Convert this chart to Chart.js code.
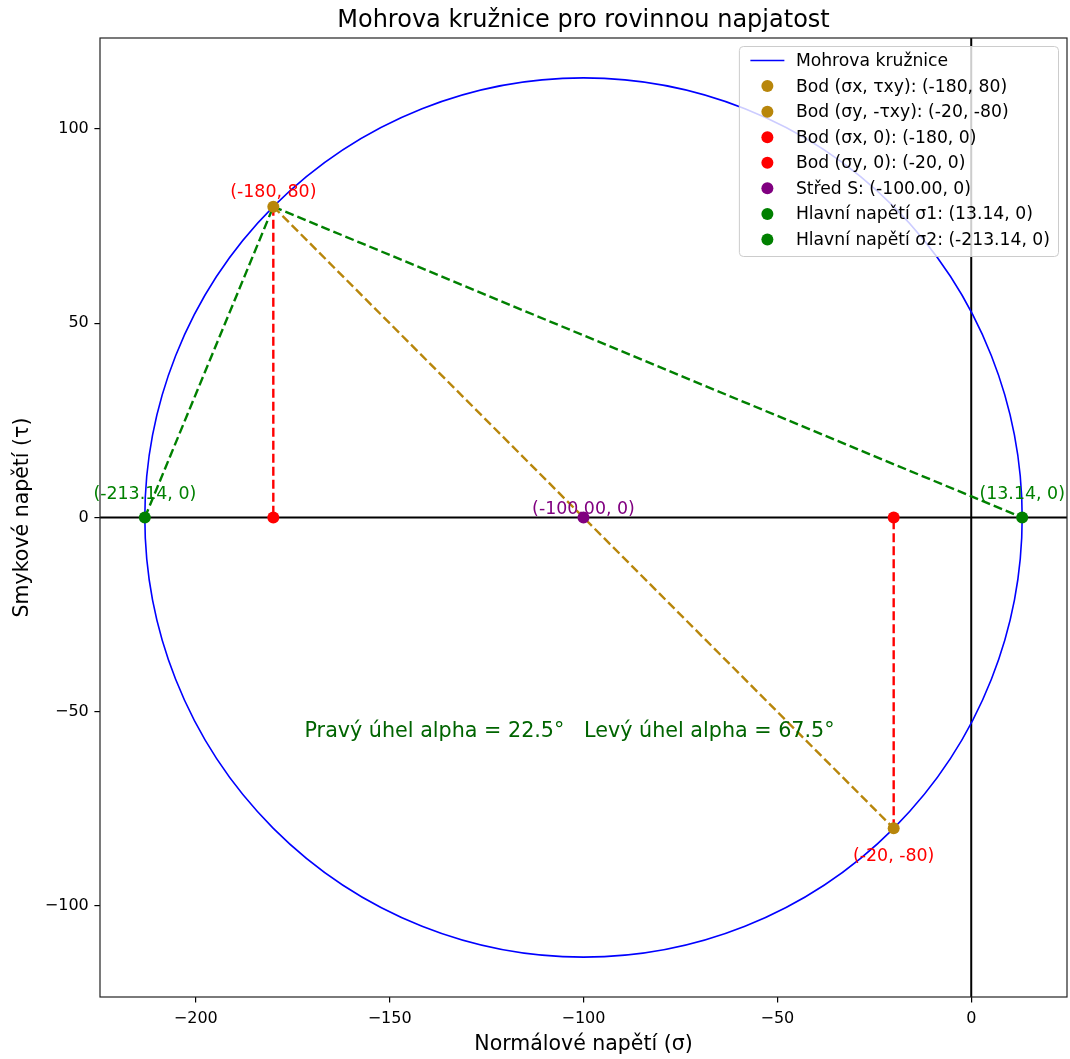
<!DOCTYPE html>
<html>
<head>
<meta charset="utf-8">
<title>Mohrova kružnice</title>
<script src="https://cdn.jsdelivr.net/npm/chart.js@4.4.1/dist/chart.umd.min.js"></script>
<style>
  html, body { margin: 0; padding: 0; background: #fff; overflow: hidden; }
  canvas { display: block; }
</style>
</head>
<body>
<!-- 3px wider than the window: the x axis keeps a 5px right margin for its last label -->
<canvas id="mohrChart" width="1073" height="1059"></canvas>
<script>
// ---- data ----
const chartTitle = 'Mohrova kružnice pro rovinnou napjatost';
const xAxisTitle = 'Normálové napětí (σ)';
const yAxisTitle = 'Smykové napětí (τ)';

const xTicks = [-200, -150, -100, -50, 0];
const yTicks = [-100, -50, 0, 50, 100];
const xRange = [-224.7, 24.7];
const yRange = [-123.4, 123.4];

const circleLabel = 'Mohrova kružnice';
const circleCenter = [-100, 0];
const circleRadius = 113.14;

const pointLabels = [
    'Bod (σx, τxy): (-180, 80)',
    'Bod (σy, -τxy): (-20, -80)',
    'Bod (σx, 0): (-180, 0)',
    'Bod (σy, 0): (-20, 0)',
    'Střed S: (-100.00, 0)',
    'Hlavní napětí σ1: (13.14, 0)',
    'Hlavní napětí σ2: (-213.14, 0)'
];
const pointX = [-180, -20, -180, -20, -100, 13.14, -213.14];
const pointY = [80, -80, 0, 0, 0, 0, 0];

// dashed construction lines, as pairs of point indices
const segFrom = [0, 1, 0, 6, 0];
const segTo = [2, 3, 1, 0, 5];

// coordinate notes next to points
const noteIdx = [0, 1, 4, 6, 5];
const noteText = ['(-180, 80)', '(-20, -80)', '(-100.00, 0)', '(-213.14, 0)', '(13.14, 0)'];

const angleNote = 'Pravý úhel alpha = 22.5°   Levý úhel alpha = 67.5°';
const angleNoteAt = [-103.6, -55];

// ---- styles ----
const font = "'DejaVu Sans', sans-serif";
const goldenrod = '#b8860b';
const red = '#ff0000';
const purple = '#800080';
const green = '#008000';
const blue = '#0000ff';
const pointColors = [goldenrod, goldenrod, red, red, purple, green, green];
const segColors = [red, red, goldenrod, green, green];
const noteColors = [red, red, purple, green, green];
const noteDy = [-10, 33, -4, -19, -19];   // baseline offset from the point, px

const fmtTick = v => (v < 0 ? '\u2212' + Math.abs(v) : String(v));

Chart.defaults.font.family = font;
Chart.defaults.color = '#000';

// dashed lines
const segDatasets = segFrom.map((a, i) => ({
    type: 'line',
    data: [{ x: pointX[a], y: pointY[a] }, { x: pointX[segTo[i]], y: pointY[segTo[i]] }],
    borderColor: segColors[i],
    borderWidth: 2.4,
    borderDash: [9, 4],
    pointRadius: 0,
    fill: false,
    order: 2
}));

// points
const pointDatasets = pointLabels.map((label, i) => ({
    type: 'scatter',
    label: label,
    data: [{ x: pointX[i], y: pointY[i] }],
    backgroundColor: pointColors[i],
    borderColor: pointColors[i],
    pointRadius: 6,
    pointBorderWidth: 0,
    order: 1
}));

const mohrPlugin = {
    id: 'mohr',
    beforeDatasetsDraw(chart) {
        const { ctx, chartArea: a, scales: { x, y } } = chart;
        ctx.save();
        ctx.beginPath();
        ctx.rect(a.left, a.top, a.right - a.left, a.bottom - a.top);
        ctx.clip();

        // zero lines
        const x0 = x.getPixelForValue(0);
        const y0 = y.getPixelForValue(0);
        ctx.strokeStyle = '#000';
        ctx.lineWidth = 2;
        ctx.beginPath();
        ctx.moveTo(a.left, y0); ctx.lineTo(a.right, y0);
        ctx.moveTo(x0, a.top); ctx.lineTo(x0, a.bottom);
        ctx.stroke();

        // circle
        const cx = x.getPixelForValue(circleCenter[0]);
        const cy = y.getPixelForValue(circleCenter[1]);
        const rx = Math.abs(x.getPixelForValue(circleCenter[0] + circleRadius) - cx);
        const ry = Math.abs(y.getPixelForValue(circleCenter[1] + circleRadius) - cy);
        ctx.strokeStyle = blue;
        ctx.lineWidth = 1.6;
        ctx.beginPath();
        ctx.ellipse(cx, cy, rx, ry, 0, 0, Math.PI * 2);
        ctx.stroke();
        ctx.restore();
    },
    afterDraw(chart) {
        const { ctx, chartArea: a, scales: { x, y } } = chart;
        ctx.save();

        // frame
        ctx.strokeStyle = '#222';
        ctx.lineWidth = 1.2;
        ctx.strokeRect(a.left, a.top, a.right - a.left, a.bottom - a.top);

        // title
        ctx.fillStyle = '#000';
        ctx.font = '24px ' + font;
        ctx.textAlign = 'center';
        ctx.textBaseline = 'alphabetic';
        ctx.fillText(chartTitle, (a.left + a.right) / 2, 27);

        // point notes
        ctx.font = '17.4px ' + font;
        noteIdx.forEach((p, i) => {
            ctx.fillStyle = noteColors[i];
            ctx.fillText(noteText[i], x.getPixelForValue(pointX[p]), y.getPixelForValue(pointY[p]) + noteDy[i]);
        });

        // angle note
        ctx.font = '20.7px ' + font;
        ctx.fillStyle = '#006400';
        ctx.textBaseline = 'middle';
        ctx.fillText(angleNote, x.getPixelForValue(angleNoteAt[0]), y.getPixelForValue(angleNoteAt[1]));

        // legend
        ctx.font = '17.2px ' + font;
        const labels = [circleLabel].concat(pointLabels);
        const maxW = Math.max(...labels.map(t => ctx.measureText(t).width));
        const padL = 11, handle = 34, gap = 11.5, padR = 8.5;
        const rowH = 25.57, padT = 14, padB = 17;
        const w = padL + handle + gap + maxW + padR;
        const h = padT + rowH * (labels.length - 1) + padB;
        const right = a.right - 8.5, top = a.top + 8.5, left = right - w;

        ctx.beginPath();
        ctx.roundRect(left, top, w, h, 4);
        ctx.fillStyle = 'rgba(255,255,255,0.8)';
        ctx.fill();
        ctx.strokeStyle = '#cccccc';
        ctx.lineWidth = 1;
        ctx.stroke();

        labels.forEach((t, i) => {
            const ry = top + padT + i * rowH;
            if (i === 0) {
                ctx.strokeStyle = blue;
                ctx.lineWidth = 1.6;
                ctx.beginPath();
                ctx.moveTo(left + padL, ry);
                ctx.lineTo(left + padL + handle, ry);
                ctx.stroke();
            } else {
                ctx.fillStyle = pointColors[i - 1];
                ctx.beginPath();
                ctx.arc(left + padL + handle / 2, ry, 6, 0, Math.PI * 2);
                ctx.fill();
            }
            ctx.fillStyle = '#000';
            ctx.textAlign = 'left';
            ctx.textBaseline = 'middle';
            ctx.fillText(t, left + padL + handle + gap, ry + 1);
        });
        ctx.restore();
    }
};

new Chart(document.getElementById('mohrChart'), {
    data: { datasets: pointDatasets.concat(segDatasets) },
    options: {
        responsive: false,
        animation: false,
        layout: { padding: { top: 38, right: 2, bottom: 0, left: 0 } },
        plugins: {
            legend: { display: false },
            tooltip: { enabled: false },
            title: { display: false }
        },
        scales: {
            x: {
                type: 'linear',
                min: xRange[0],
                max: xRange[1],
                afterBuildTicks: s => { s.ticks = xTicks.map(v => ({ value: v })); },
                afterFit: s => { s.height = 62; s.paddingLeft = 0; s.paddingRight = 0; },
                grid: { drawOnChartArea: false, drawTicks: true, tickLength: 5.6, color: '#000', lineWidth: 1.2 },
                border: { display: false },
                ticks: { color: '#000', font: { size: 16 }, padding: 6.5, maxRotation: 0, autoSkip: false, callback: v => fmtTick(v) },
                title: { display: true, text: xAxisTitle, color: '#000', font: { size: 20.5 }, padding: { top: 0, bottom: 2 } }
            },
            y: {
                type: 'linear',
                min: yRange[0],
                max: yRange[1],
                afterBuildTicks: s => { s.ticks = yTicks.map(v => ({ value: v })); },
                afterFit: s => { s.width = 100; s.paddingTop = 0; s.paddingBottom = 0; },
                grid: { drawOnChartArea: false, drawTicks: true, tickLength: 5.6, color: '#000', lineWidth: 1.2 },
                border: { display: false },
                ticks: { color: '#000', font: { size: 16 }, padding: 5.6, autoSkip: false, callback: v => fmtTick(v) },
                title: { display: true, text: yAxisTitle, color: '#000', font: { size: 20.5 }, padding: { top: 10, bottom: 0 } }
            }
        }
    },
    plugins: [mohrPlugin]
});
</script>
</body>
</html>
